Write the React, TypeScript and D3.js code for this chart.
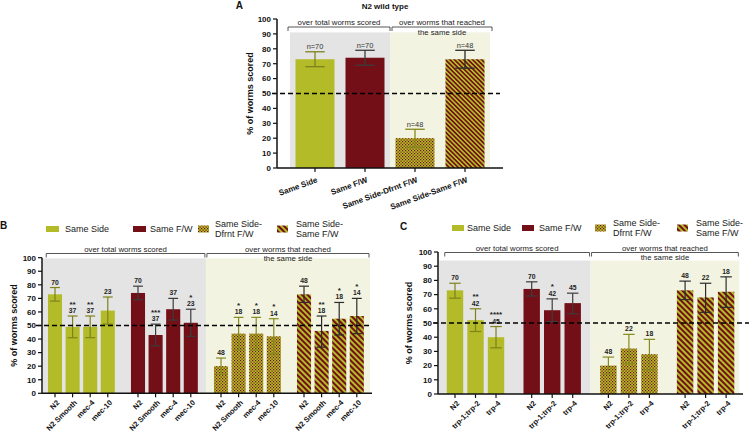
import React from "react";
import * as d3 from "d3";

const FONT = "'Liberation Sans', Arial, Helvetica, sans-serif";
const YELLOW = "#b3bb28";
const RED = "#730f17";
const GRAY_BG = "#e4e4e4";
const GREEN_BG = "#f2f4e1";

const seriesNames = ["Same Side", "Same F/W", "Same Side-Dfrnt F/W", "Same Side-Same F/W"];
const legendLines = [["Same Side"], ["Same F/W"], ["Same Side-", "Dfrnt F/W"], ["Same Side-", "Same F/W"]];
const yTicks = [0, 10, 20, 30, 40, 50, 60, 70, 80, 90, 100];
const bracketLeftText = "over total worms scored";
const bracketRightText = ["over worms that reached", "the same side"];

// Panel A
const aTitle = "N2 wild type";
const aMean = [73, 74, 20, 73];
const aLow = [68, 69, 14, 67];
const aHigh = [78, 79, 26, 79];
const aN = ["n=70", "n=70", "n=48", "n=48"];

// Panel B
const bStrains = ["N2", "N2 Smooth", "mec-4", "mec-10"];
const bSameSideMean = [73, 49, 49, 61];
const bSameSideLow = [68, 41, 41, 51];
const bSameSideHigh = [78, 57, 57, 71];
const bSameSideN = ["70", "37", "37", "23"];
const bSameSideSig = ["", "**", "**", ""];
const bSameFWMean = [74, 43, 62, 52];
const bSameFWLow = [69, 35, 54, 42];
const bSameFWHigh = [79, 51, 70, 62];
const bSameFWN = ["70", "37", "37", "23"];
const bSameFWSig = ["", "***", "", "*"];
const bDfrntMean = [20, 44, 44, 42];
const bDfrntLow = [14, 32, 32, 29];
const bDfrntHigh = [26, 56, 56, 55];
const bDfrntN = ["48", "18", "18", "14"];
const bDfrntSig = ["", "*", "*", "*"];
const bSSFWMean = [73, 46, 55, 57];
const bSSFWLow = [67, 34, 43, 44];
const bSSFWHigh = [79, 57, 67, 70];
const bSSFWN = ["48", "18", "18", "14"];
const bSSFWSig = ["", "**", "*", "*"];

// Panel C
const cStrains = ["N2", "trp-1;trp-2", "trp-4"];
const cSameSideMean = [73, 52, 40];
const cSameSideLow = [67.5, 44, 32.5];
const cSameSideHigh = [78, 60, 47.5];
const cSameSideN = ["70", "42", "45"];
const cSameSideSig = ["", "**", "****"];
const cSameFWMean = [74, 59, 64];
const cSameFWLow = [69, 51, 56.5];
const cSameFWHigh = [79, 67, 71];
const cSameFWN = ["70", "42", "45"];
const cSameFWSig = ["", "*", ""];
const cDfrntMean = [20, 32, 28];
const cDfrntLow = [14, 21.5, 17];
const cDfrntHigh = [26, 42, 38.5];
const cDfrntN = ["48", "22", "18"];
const cDfrntSig = ["", "", ""];
const cSSFWMean = [73, 68, 72];
const cSSFWLow = [66.5, 57.5, 61];
const cSSFWHigh = [79.5, 78, 82.5];
const cSSFWN = ["48", "22", "18"];
const cSSFWSig = ["", "", ""];

type Series = { mean: number[]; low: number[]; high: number[]; n: string[]; sig: string[] };

const bSeries: Series[] = [
  { mean: bSameSideMean, low: bSameSideLow, high: bSameSideHigh, n: bSameSideN, sig: bSameSideSig },
  { mean: bSameFWMean, low: bSameFWLow, high: bSameFWHigh, n: bSameFWN, sig: bSameFWSig },
  { mean: bDfrntMean, low: bDfrntLow, high: bDfrntHigh, n: bDfrntN, sig: bDfrntSig },
  { mean: bSSFWMean, low: bSSFWLow, high: bSSFWHigh, n: bSSFWN, sig: bSSFWSig },
];
const cSeries: Series[] = [
  { mean: cSameSideMean, low: cSameSideLow, high: cSameSideHigh, n: cSameSideN, sig: cSameSideSig },
  { mean: cSameFWMean, low: cSameFWLow, high: cSameFWHigh, n: cSameFWN, sig: cSameFWSig },
  { mean: cDfrntMean, low: cDfrntLow, high: cDfrntHigh, n: cDfrntN, sig: cDfrntSig },
  { mean: cSSFWMean, low: cSSFWLow, high: cSSFWHigh, n: cSSFWN, sig: cSSFWSig },
];

const errColors = ["#7d821c", "#3c3c3c", "#858a1e", "#2c2c2c"];
const fills = (p: string) => [YELLOW, RED, `url(#chk${p})`, `url(#str${p})`];

function Patterns({ p, stripe }: { p: string; stripe: number }) {
  return (
    <>
      <pattern id={`chk${p}`} width={3} height={3} patternUnits="userSpaceOnUse">
        <rect width={3} height={3} fill={YELLOW} />
        <rect width={1.2} height={1.2} fill={RED} />
        <rect x={1.5} y={1.5} width={1.2} height={1.2} fill={RED} />
      </pattern>
      <pattern id={`str${p}`} width={stripe} height={stripe} patternUnits="userSpaceOnUse" patternTransform="rotate(-45)">
        <rect width={stripe} height={stripe} fill={YELLOW} />
        <rect width={stripe / 2} height={stripe} fill={RED} />
      </pattern>
    </>
  );
}

function YAxis({ y, x, title, titleX }: { y: d3.ScaleLinear<number, number>; x: number; title: string; titleX: number }) {
  const [b, t] = y.range();
  return (
    <g>
      <line x1={x} x2={x} y1={b} y2={t} stroke="#111" strokeWidth={1.5} />
      {yTicks.map((v) => (
        <g key={v}>
          <line x1={x - 4} x2={x} y1={y(v)} y2={y(v)} stroke="#111" strokeWidth={1.2} />
          <text x={x - 6} y={y(v)} dy="0.35em" textAnchor="end" fontSize={8} fontWeight="bold" fill="#111">{v}</text>
        </g>
      ))}
      <text transform={`translate(${titleX},${(b + t) / 2}) rotate(-90)`} textAnchor="middle" fontSize={9} fontWeight="bold" fill="#111">{title}</text>
    </g>
  );
}

function Bracket({ x1, x2, yLine, lines }: { x1: number; x2: number; yLine: number; lines: string[] }) {
  return (
    <g>
      <path d={`M${x1},${yLine + 4}V${yLine}H${x2}V${yLine + 4}`} fill="none" stroke="#444" strokeWidth={0.9} />
      <text x={(x1 + x2) / 2} y={yLine - 2} textAnchor="middle" fontSize={7.8} fill="#222">{lines[0]}</text>
      {lines[1] && (
        <text x={(x1 + x2) / 2} y={yLine + 7.5} textAnchor="middle" fontSize={7.8} fill="#222">{lines[1]}</text>
      )}
    </g>
  );
}

function PanelA() {
  const x = d3.scaleBand<string>().domain(seriesNames).range([290, 490]).paddingInner(0.22).paddingOuter(0.11);
  const y = d3.scaleLinear().domain([0, 100]).range([168, 19]);
  const axisX = 277;
  const bw = x.bandwidth();
  const split = (x(seriesNames[1])! + bw + x(seriesNames[2])!) / 2;
  const f = fills("A");
  return (
    <g>
      <rect x={290} y={y(91)} width={split - 290} height={y(0) - y(91)} fill={GRAY_BG} />
      <rect x={split} y={y(91)} width={490 - split} height={y(0) - y(91)} fill={GREEN_BG} />
      <Bracket x1={288} x2={split} yLine={27} lines={[bracketLeftText]} />
      <Bracket x1={split + 2} x2={492} yLine={27} lines={bracketRightText} />
      {seriesNames.map((s, i) => {
        const x0 = x(s)!;
        const cx = x0 + bw / 2;
        return (
          <g key={s}>
            <rect x={x0} y={y(aMean[i])} width={bw} height={y(0) - y(aMean[i])} fill={f[i]} />
            <line x1={cx} x2={cx} y1={y(aLow[i])} y2={y(aHigh[i])} stroke={errColors[i]} strokeWidth={1.3} />
            <line x1={cx - bw * 0.25} x2={cx + bw * 0.25} y1={y(aLow[i])} y2={y(aLow[i])} stroke={errColors[i]} strokeWidth={1.3} />
            <line x1={cx - bw * 0.25} x2={cx + bw * 0.25} y1={y(aHigh[i])} y2={y(aHigh[i])} stroke={errColors[i]} strokeWidth={1.3} />
            <text x={cx} y={y(aHigh[i]) - 2.5} textAnchor="middle" fontSize={7.4} fill="#333">{aN[i]}</text>
            <line x1={cx} x2={cx} y1={y(0)} y2={y(0) + 4} stroke="#111" strokeWidth={1.2} />
            <text transform={`translate(${cx + 3},${y(0) + 14}) rotate(-20)`} textAnchor="end" fontSize={8} fontWeight="bold" fill="#111">{s}</text>
          </g>
        );
      })}
      <line x1={272} x2={500} y1={y(50)} y2={y(50)} stroke="#000" strokeWidth={1.5} strokeDasharray="5,3" />
      <line x1={axisX} x2={503} y1={y(0)} y2={y(0)} stroke="#111" strokeWidth={1.5} />
      <YAxis y={y} x={axisX} title="% of worms scored" titleX={253} />
      <text x={385} y={8.5} textAnchor="middle" fontSize={8} fontWeight="bold" fill="#111">{aTitle}</text>
      <text x={243} y={9} textAnchor="end" fontSize={10} fontWeight="bold" fill="#111">A</text>
    </g>
  );
}

type Layout = {
  p: string;
  letter: string;
  letterX: number;
  letterY: number;
  axisX: number;
  yBottom: number;
  yTop: number;
  groupRange: [number, number];
  padInner: number;
  bgTopValue: number;
  bgRightPad: number;
  axisEnd: number;
  dash: [number, number];
  bracketY: number;
  titleX: number;
  legendY: number;
  swatchX: number[];
  textX: number[];
  swatchW: number;
};

function GroupedPanel({ strains, series, L }: { strains: string[]; series: Series[]; L: Layout }) {
  const y = d3.scaleLinear().domain([0, 100]).range([L.yBottom, L.yTop]);
  const outer = d3.scaleBand<string>().domain(seriesNames).range(L.groupRange).paddingInner(L.padInner).paddingOuter(0);
  const inner = d3.scaleBand<string>().domain(strains).range([0, outer.bandwidth()]).paddingInner(0.2).paddingOuter(0.1);
  const bw = inner.bandwidth();
  const g2End = outer(seriesNames[1])! + outer.bandwidth();
  const g3Start = outer(seriesNames[2])!;
  const split = (g2End + g3Start) / 2;
  const g4End = outer(seriesNames[3])! + outer.bandwidth() + L.bgRightPad;
  const bgTop = y(L.bgTopValue);
  const f = fills(L.p);
  const cap = bw * 0.35;
  return (
    <g>
      <rect x={L.axisX + 1} y={bgTop} width={split - L.axisX - 1} height={L.yBottom - bgTop} fill={GRAY_BG} />
      <rect x={split} y={bgTop} width={g4End - split} height={L.yBottom - bgTop} fill={GREEN_BG} />
      <Bracket x1={outer(seriesNames[0])!} x2={split - 1} yLine={L.bracketY} lines={[bracketLeftText]} />
      <Bracket x1={split + 1} x2={g4End - 1} yLine={L.bracketY} lines={bracketRightText} />
      {seriesNames.map((s, si) => (
        <g key={s}>
          {strains.map((st, i) => {
            const x0 = outer(s)! + inner(st)!;
            const cx = x0 + bw / 2;
            const d = series[si];
            const yh = y(d.high[i]);
            return (
              <g key={st}>
                <rect x={x0} y={y(d.mean[i])} width={bw} height={L.yBottom - y(d.mean[i])} fill={f[si]} />
                <line x1={cx} x2={cx} y1={y(d.low[i])} y2={yh} stroke={errColors[si]} strokeWidth={1.2} />
                <line x1={cx - cap} x2={cx + cap} y1={y(d.low[i])} y2={y(d.low[i])} stroke={errColors[si]} strokeWidth={1.2} />
                <line x1={cx - cap} x2={cx + cap} y1={yh} y2={yh} stroke={errColors[si]} strokeWidth={1.2} />
                <text x={cx} y={yh - 3} textAnchor="middle" fontSize={6.8} fontWeight="bold" fill="#222">{d.n[i]}</text>
                {d.sig[i] && (
                  <text x={cx} y={yh - 9.5} textAnchor="middle" fontSize={8} fontWeight="bold" fill="#222">{d.sig[i]}</text>
                )}
                <line x1={cx} x2={cx} y1={L.yBottom} y2={L.yBottom + 4} stroke="#111" strokeWidth={1.2} />
                <text transform={`translate(${cx + 3},${L.yBottom + 8}) rotate(-45)`} textAnchor="end" dy="0.35em" fontSize={7.5} fontWeight="bold" fill="#111">{st}</text>
              </g>
            );
          })}
        </g>
      ))}
      <line x1={L.dash[0]} x2={L.dash[1]} y1={y(50)} y2={y(50)} stroke="#000" strokeWidth={1.5} strokeDasharray="5,3" />
      <line x1={L.axisX} x2={L.axisEnd} y1={L.yBottom} y2={L.yBottom} stroke="#111" strokeWidth={1.5} />
      <YAxis y={y} x={L.axisX} title="% of worms scored" titleX={L.titleX} />
      {seriesNames.map((s, i) => {
        const lines = legendLines[i];
        const w = i < 2 ? L.swatchW : 11;
        const h = i < 2 ? 6 : 7;
        return (
          <g key={s}>
            <rect x={L.swatchX[i]} y={L.legendY - h / 2} width={w} height={h} fill={f[i]} />
            {lines.map((t, k) => (
              <text key={k} x={L.textX[i]} y={L.legendY + (k - (lines.length - 1) / 2) * 10.5} dy="0.35em" fontSize={9} fill="#222">{t}</text>
            ))}
          </g>
        );
      })}
      <text x={L.letterX} y={L.letterY} fontSize={10} fontWeight="bold" fill="#111">{L.letter}</text>
    </g>
  );
}

const layoutB: Layout = {
  p: "B", letter: "B", letterX: 0, letterY: 229,
  axisX: 42, yBottom: 393.3, yTop: 257.7,
  groupRange: [46.2, 365.6], padInner: 0.152,
  bgTopValue: 99.5, bgRightPad: 4.4, axisEnd: 372, dash: [36, 372],
  bracketY: 253.5, titleX: 17, legendY: 229,
  swatchX: [46, 133, 198, 277], textX: [65, 150, 215, 296], swatchW: 13,
};

const layoutC: Layout = {
  p: "C", letter: "C", letterX: 400, letterY: 229.5,
  axisX: 438, yBottom: 394, yTop: 252,
  groupRange: [444.75, 736.35], padInner: 0.198,
  bgTopValue: 94, bgRightPad: 3, axisEnd: 743, dash: [433, 749],
  bracketY: 252.5, titleX: 412, legendY: 228,
  swatchX: [452, 522, 595, 677], textX: [467, 539, 613, 696], swatchW: 12,
};

export default function App() {
  return (
    <svg width={749} height={438} style={{ position: "absolute", left: 0, top: 0, background: "#fff" }} fontFamily={FONT}>
      <defs>
        <Patterns p="A" stripe={3.2} />
        <Patterns p="B" stripe={4} />
        <Patterns p="C" stripe={4} />
      </defs>
      <rect width={749} height={438} fill="#fff" />
      <PanelA />
      <GroupedPanel strains={bStrains} series={bSeries} L={layoutB} />
      <GroupedPanel strains={cStrains} series={cSeries} L={layoutC} />
    </svg>
  );
}
